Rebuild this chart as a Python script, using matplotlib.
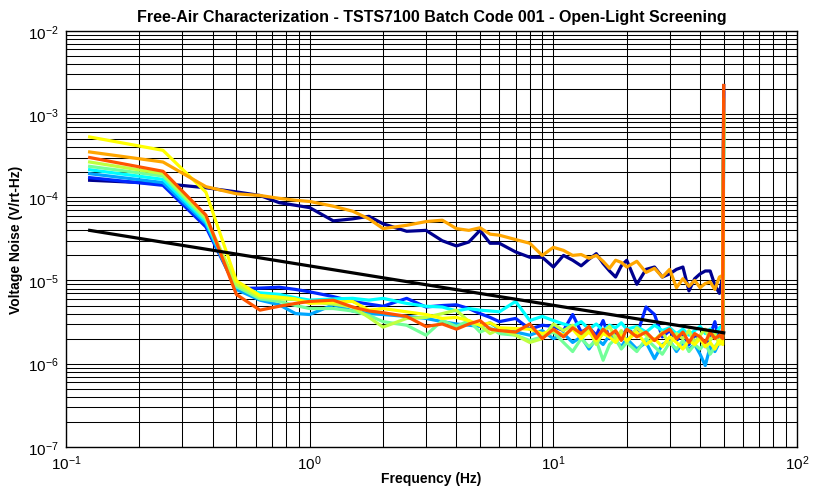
import numpy as np
import matplotlib.pyplot as plt
from matplotlib.ticker import LogLocator

plt.rcParams['font.family'] = ['Liberation Sans Narrow', 'Liberation Sans', 'DejaVu Sans']

# Frequencias (Hz) comuns a todas as curvas
freq = [0.125, 0.25, 0.375, 0.5, 0.625, 0.75, 0.875, 1.0,
        1.25, 1.5, 1.75, 2.0, 2.5, 3.0, 3.5, 4.0, 4.5, 5.0, 5.5, 6.0, 7.0, 8.0, 9.0, 10.0,
        11, 12, 13, 14, 15, 16, 17, 18, 19, 20,
        22, 24, 26, 28, 30, 32, 34, 36, 38, 40, 42, 44, 46, 48, 49.5, 50]

# Ruido em uV/rt-Hz
navy = [160, 146, 130, 116, 105, 86, 80, 75,
        52, 55, 59, 48, 39, 40, 30, 26, 29, 40, 28, 28, 22, 19, 19, 14.5,
        20, 17.5, 15, 18, 21, 16, 13, 11, 15, 17.5,
        9, 13.6, 14.5, 11, 12, 13.6, 14.5, 7.5, 10.5, 12, 13, 13, 8.8, 7, 11, 2200]
blue = [172, 139, 44, 8.0, 8.1, 8.3, 7.8, 7.3,
        6.4, 5.6, 5.2, 4.9, 6.1, 4.8, 5.0, 5.1, 4.6, 4.0, 3.6, 3.2, 3.5, 2.6, 2.9, 2.8,
        2.5, 3.9, 2.4, 2.7, 2.2, 3.3, 2.0, 2.4, 2.1, 2.6,
        2.2, 4.8, 3.9, 2.1, 2.5, 1.9, 2.3, 1.7, 2.2, 2.0, 1.6, 2.2, 3.2, 1.8, 2.6, 1800]
deepsky = [192, 150, 48, 7.8, 5.8, 5.1, 4.0, 3.9,
           5.1, 4.3, 4.0, 3.9, 3.7, 3.5, 3.2, 3.0, 2.9, 2.8, 3.1, 2.6, 2.4, 2.2, 2.5, 2.0,
           2.3, 1.8, 2.1, 1.5, 2.0, 1.7, 2.2, 1.9, 1.6, 2.0,
           1.5, 1.8, 1.15, 1.7, 1.9, 1.4, 1.8, 1.5, 1.7, 1.3, 0.95, 1.6, 1.4, 1.8, 2.4, 500]
cyan = [214, 164, 51, 8.3, 7.1, 6.8, 6.2, 5.8,
        6.0, 6.1, 5.8, 6.1, 5.3, 4.9, 4.8, 4.3, 4.6, 4.4, 4.3, 4.2, 5.6, 3.3, 3.7, 3.3,
        3.0, 2.8, 3.2, 2.6, 3.0, 2.5, 2.9, 2.7, 3.1, 2.6,
        2.8, 2.4, 2.9, 2.5, 2.7, 2.3, 2.6, 2.2, 2.5, 2.8, 2.3, 2.6, 2.2, 2.7, 2.9, 800]
aqua = [235, 180, 54, 8.5, 6.0, 5.6, 5.0, 4.6,
        4.6, 4.3, 3.8, 3.2, 2.9, 2.2, 3.3, 2.8, 3.3, 2.4, 2.7, 2.3, 2.2, 1.9, 2.1, 2.4,
        1.8, 1.4, 2.0, 1.6, 1.9, 1.1, 1.7, 2.0, 1.5, 1.8,
        1.4, 2.0, 1.6, 1.3, 1.8, 1.5, 1.9, 1.4, 1.7, 1.5, 1.8, 1.3, 1.6, 1.9, 2.1, 900]
lgreen = [265, 192, 57, 9.0, 6.3, 6.0, 5.9, 5.5,
          5.2, 4.8, 3.6, 2.75, 3.5, 3.6, 4.0, 4.4, 3.2, 2.9, 2.3, 2.6, 2.2, 1.8, 2.0, 3.0,
          2.5, 2.9, 2.1, 2.6, 1.7, 2.4, 2.8, 2.0, 2.5, 1.8,
          2.7, 2.2, 1.9, 2.4, 1.7, 2.3, 2.0, 2.5, 1.8, 2.2, 2.6, 1.9, 2.3, 1.7, 2.5, 1000]
yellow = [530, 366, 115, 9.9, 6.6, 6.3, 6.0, 5.3,
          5.5, 5.6, 4.4, 4.6, 4.2, 3.9, 3.5, 3.6, 3.3, 2.9, 3.1, 2.7, 2.65, 2.6, 2.3, 2.5,
          2.2, 2.6, 2.0, 2.4, 1.9, 2.3, 2.1, 1.8, 2.2, 1.9,
          2.4, 1.7, 2.0, 1.6, 2.1, 1.8, 1.5, 1.9, 1.7, 2.0, 1.6, 1.8, 1.5, 1.9, 1.7, 1000]
orange = [350, 265, 134, 110, 105, 97, 92, 89,
          78, 68, 55, 42, 46, 51, 53, 42, 40, 43, 36, 35, 31, 28, 20, 25,
          23, 20, 20.5, 18.5, 20, 17, 14, 17.5, 16.5, 14.5,
          17, 12.5, 14, 11, 13.6, 8.2, 10.5, 8.5, 10, 8.2, 9.2, 9.6, 7.8, 11, 11.5, 1500]
red = [300, 205, 61, 6.8, 4.4, 4.9, 5.3, 5.6,
       5.8, 4.8, 4.3, 4.1, 3.7, 2.8, 3.0, 2.6, 3.0, 3.3, 2.6, 2.5, 2.4, 3.0, 2.0, 2.6,
       2.1, 2.7, 2.3, 2.8, 2.0, 2.6, 2.2, 2.5, 1.9, 2.6,
       2.1, 2.4, 1.9, 2.3, 2.6, 2.0, 2.4, 1.8, 2.3, 2.1, 1.8, 2.4, 2.0, 2.2, 2.0, 2200]

# Linha de referencia
ref_freq = [0.125, 50]
ref_noise = [40, 2.35]

curvas = [
    (navy, (0.0, 0.0, 0.56)),
    (blue, (0.0, 0.15, 1.0)),
    (deepsky, (0.0, 0.65, 1.0)),
    (cyan, (0.0, 1.0, 1.0)),
    (aqua, (0.45, 1.0, 0.6)),
    (lgreen, (0.75, 1.0, 0.25)),
    (yellow, (1.0, 1.0, 0.0)),
    (orange, (1.0, 0.65, 0.0)),
    (red, (1.0, 0.33, 0.0)),
]

fig = plt.figure(figsize=(8.15, 4.89), dpi=100)
ax = fig.add_axes([0.081, 0.084, 0.897, 0.851])

for valores, cor in curvas:
    ax.plot(freq, np.array(valores) * 1e-6, color=cor, lw=2.3)
ax.plot(ref_freq, np.array(ref_noise) * 1e-6, color='black', lw=2.3)

ax.set_xscale('log')
ax.set_yscale('log')
ax.set_xlim(0.1, 100)
ax.set_ylim(1e-7, 1e-2)
ax.xaxis.set_minor_locator(LogLocator(base=10, subs=np.arange(2, 10)))
ax.yaxis.set_minor_locator(LogLocator(base=10, subs=np.arange(2, 10)))
ax.grid(True, which='both', color='black', lw=0.75, ls='-')
ax.set_axisbelow(True)
ax.tick_params(which='both', length=0, labelsize=11)
ax.tick_params(axis='x', pad=5)
ax.tick_params(axis='y', pad=5)
for s in ax.spines.values():
    s.set_linewidth(1.0)

ax.set_title('Free-Air Characterization - TSTS7100 Batch Code 001 - Open-Light Screening',
             fontsize=11.5, fontweight='bold', pad=7)
ax.set_xlabel('Frequency (Hz)', fontsize=10, fontweight='bold', labelpad=-1)
ax.set_ylabel('Voltage Noise (V/rt-Hz)', fontsize=10, fontweight='bold', labelpad=4)

fig.savefig('out.png', dpi=100, facecolor='white')
